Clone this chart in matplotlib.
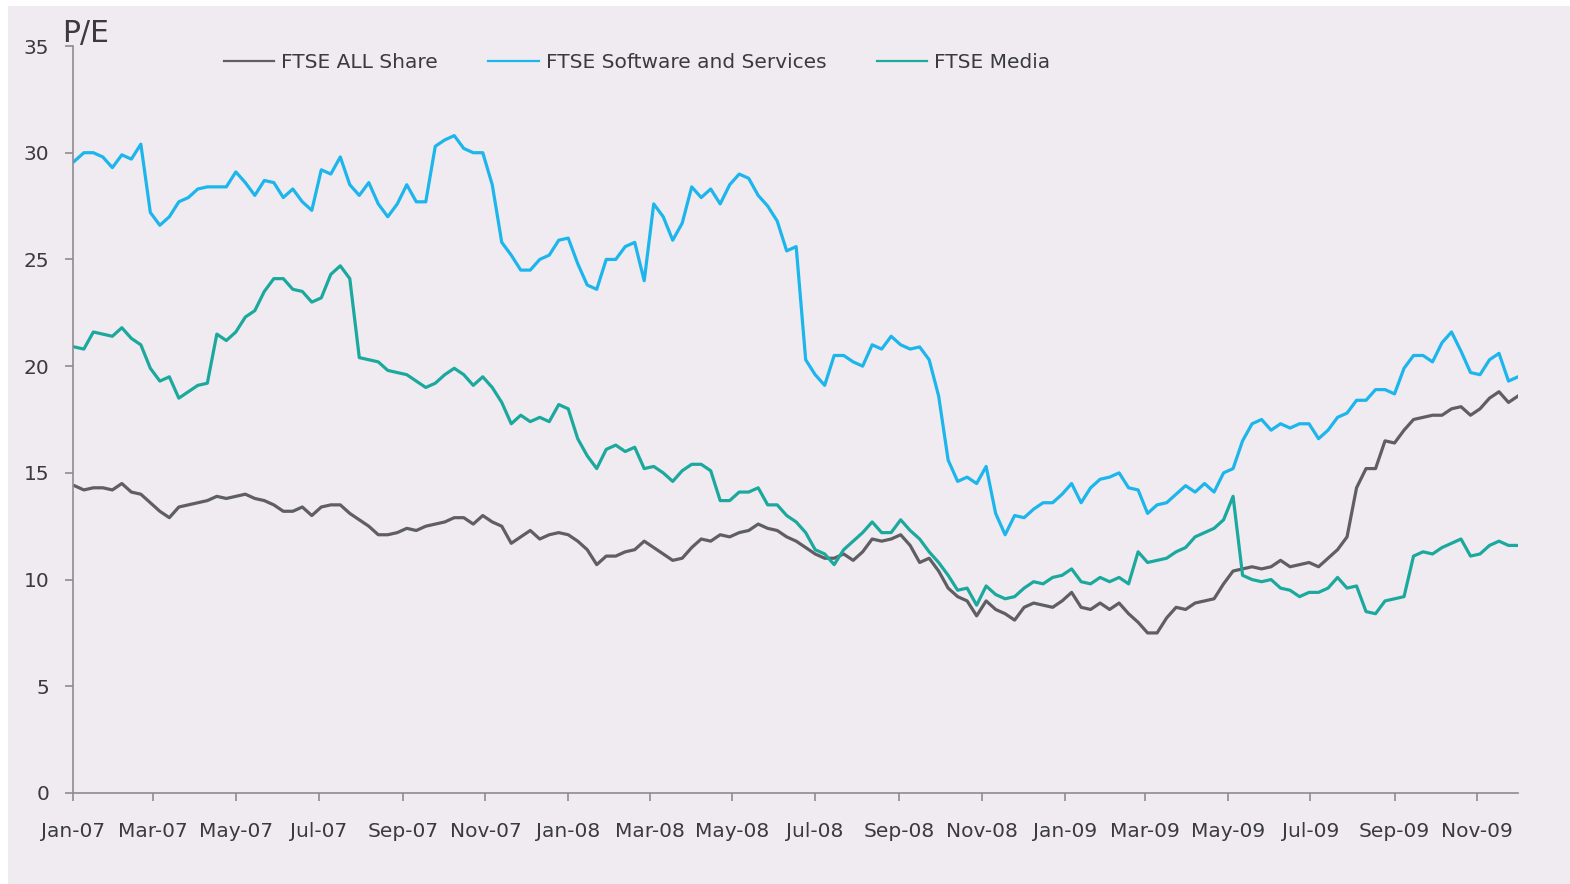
import numpy as np
import pandas as pd
import matplotlib
matplotlib.use("Agg")
import matplotlib.pyplot as plt
import matplotlib.dates as mdates
from matplotlib.lines import Line2D
from matplotlib.patches import Rectangle

# weekly P/E readings, Jan-07 to end Nov-09
start_date = "2007-01-02"

all_share = [
    14.4, 14.2, 14.3, 14.3, 14.2, 14.5, 14.1, 14.0, 13.6, 13.2,
    12.9, 13.4, 13.5, 13.6, 13.7, 13.9, 13.8, 13.9, 14.0, 13.8,
    13.7, 13.5, 13.2, 13.2, 13.4, 13.0, 13.4, 13.5, 13.5, 13.1,
    12.8, 12.5, 12.1, 12.1, 12.2, 12.4, 12.3, 12.5, 12.6, 12.7,
    12.9, 12.9, 12.6, 13.0, 12.7, 12.5, 11.7, 12.0, 12.3, 11.9,
    12.1, 12.2, 12.1, 11.8, 11.4, 10.7, 11.1, 11.1, 11.3, 11.4,
    11.8, 11.5, 11.2, 10.9, 11.0, 11.5, 11.9, 11.8, 12.1, 12.0,
    12.2, 12.3, 12.6, 12.4, 12.3, 12.0, 11.8, 11.5, 11.2, 11.0,
    11.0, 11.2, 10.9, 11.3, 11.9, 11.8, 11.9, 12.1, 11.6, 10.8,
    11.0, 10.4, 9.6, 9.2, 9.0, 8.3, 9.0, 8.6, 8.4, 8.1,
    8.7, 8.9, 8.8, 8.7, 9.0, 9.4, 8.7, 8.6, 8.9, 8.6,
    8.9, 8.4, 8.0, 7.5, 7.5, 8.2, 8.7, 8.6, 8.9, 9.0,
    9.1, 9.8, 10.4, 10.5, 10.6, 10.5, 10.6, 10.9, 10.6, 10.7,
    10.8, 10.6, 11.0, 11.4, 12.0, 14.3, 15.2, 15.2, 16.5, 16.4,
    17.0, 17.5, 17.6, 17.7, 17.7, 18.0, 18.1, 17.7, 18.0, 18.5,
    18.8, 18.3, 18.6,
]

software = [
    29.6, 30.0, 30.0, 29.8, 29.3, 29.9, 29.7, 30.4, 27.2, 26.6,
    27.0, 27.7, 27.9, 28.3, 28.4, 28.4, 28.4, 29.1, 28.6, 28.0,
    28.7, 28.6, 27.9, 28.3, 27.7, 27.3, 29.2, 29.0, 29.8, 28.5,
    28.0, 28.6, 27.6, 27.0, 27.6, 28.5, 27.7, 27.7, 30.3, 30.6,
    30.8, 30.2, 30.0, 30.0, 28.5, 25.8, 25.2, 24.5, 24.5, 25.0,
    25.2, 25.9, 26.0, 24.8, 23.8, 23.6, 25.0, 25.0, 25.6, 25.8,
    24.0, 27.6, 27.0, 25.9, 26.7, 28.4, 27.9, 28.3, 27.6, 28.5,
    29.0, 28.8, 28.0, 27.5, 26.8, 25.4, 25.6, 20.3, 19.6, 19.1,
    20.5, 20.5, 20.2, 20.0, 21.0, 20.8, 21.4, 21.0, 20.8, 20.9,
    20.3, 18.6, 15.6, 14.6, 14.8, 14.5, 15.3, 13.1, 12.1, 13.0,
    12.9, 13.3, 13.6, 13.6, 14.0, 14.5, 13.6, 14.3, 14.7, 14.8,
    15.0, 14.3, 14.2, 13.1, 13.5, 13.6, 14.0, 14.4, 14.1, 14.5,
    14.1, 15.0, 15.2, 16.5, 17.3, 17.5, 17.0, 17.3, 17.1, 17.3,
    17.3, 16.6, 17.0, 17.6, 17.8, 18.4, 18.4, 18.9, 18.9, 18.7,
    19.9, 20.5, 20.5, 20.2, 21.1, 21.6, 20.7, 19.7, 19.6, 20.3,
    20.6, 19.3, 19.5,
]

media = [
    20.9, 20.8, 21.6, 21.5, 21.4, 21.8, 21.3, 21.0, 19.9, 19.3,
    19.5, 18.5, 18.8, 19.1, 19.2, 21.5, 21.2, 21.6, 22.3, 22.6,
    23.5, 24.1, 24.1, 23.6, 23.5, 23.0, 23.2, 24.3, 24.7, 24.1,
    20.4, 20.3, 20.2, 19.8, 19.7, 19.6, 19.3, 19.0, 19.2, 19.6,
    19.9, 19.6, 19.1, 19.5, 19.0, 18.3, 17.3, 17.7, 17.4, 17.6,
    17.4, 18.2, 18.0, 16.6, 15.8, 15.2, 16.1, 16.3, 16.0, 16.2,
    15.2, 15.3, 15.0, 14.6, 15.1, 15.4, 15.4, 15.1, 13.7, 13.7,
    14.1, 14.1, 14.3, 13.5, 13.5, 13.0, 12.7, 12.2, 11.4, 11.2,
    10.7, 11.4, 11.8, 12.2, 12.7, 12.2, 12.2, 12.8, 12.3, 11.9,
    11.3, 10.8, 10.2, 9.5, 9.6, 8.8, 9.7, 9.3, 9.1, 9.2,
    9.6, 9.9, 9.8, 10.1, 10.2, 10.5, 9.9, 9.8, 10.1, 9.9,
    10.1, 9.8, 11.3, 10.8, 10.9, 11.0, 11.3, 11.5, 12.0, 12.2,
    12.4, 12.8, 13.9, 10.2, 10.0, 9.9, 10.0, 9.6, 9.5, 9.2,
    9.4, 9.4, 9.6, 10.1, 9.6, 9.7, 8.5, 8.4, 9.0, 9.1,
    9.2, 11.1, 11.3, 11.2, 11.5, 11.7, 11.9, 11.1, 11.2, 11.6,
    11.8, 11.6, 11.6,
]

series_names = ["FTSE ALL Share", "FTSE Software and Services", "FTSE Media"]
colors = ["#5f5e63", "#1cb5ec", "#1ba99e"]

dates = pd.date_range(start_date, periods=len(all_share), freq="7D")

text_col = "#3a3a3f"
axis_col = "#8e8c91"
bg = "#efebf0"

fig = plt.figure(figsize=(15.7, 8.84), dpi=100, facecolor="white")
panel = Rectangle((8 / 1570, 0), 1, 1 - 6 / 884, transform=fig.transFigure,
                  facecolor=bg, edgecolor="none", zorder=-10)
fig.patches.append(panel)

ax = fig.add_axes([73 / 1570, 1 - 793 / 884, (1518 - 73) / 1570, (793 - 46) / 884])
ax.set_zorder(2)
ax.patch.set_visible(False)

for vals, c in zip([all_share, software, media], colors):
    ax.plot(dates, vals, color=c, lw=2.3, solid_joinstyle="round")

ax.set_ylim(0, 35)
ax.set_yticks(np.arange(0, 36, 5))
ax.set_xlim(pd.Timestamp("2007-01-01"), pd.Timestamp("2009-12-01"))
ax.xaxis.set_major_locator(mdates.MonthLocator(bymonth=[1, 3, 5, 7, 9, 11]))
ax.xaxis.set_major_formatter(mdates.DateFormatter("%b-%y"))

for s in ["top", "right"]:
    ax.spines[s].set_visible(False)
for s in ["left", "bottom"]:
    ax.spines[s].set_color(axis_col)
    ax.spines[s].set_linewidth(1.2)

ax.tick_params(axis="both", direction="out", length=6, width=1.2, color=axis_col,
               labelsize=14.5, labelcolor=text_col)
ax.tick_params(axis="y", pad=11)
ax.tick_params(axis="x", pad=15)

fig.text(62 / 1570, 1 - 42 / 884, "P/E", fontsize=21.5, color=text_col, va="baseline", ha="left")

handles = [Line2D([], [], color=c, lw=1.6) for c in colors]
fig.legend(handles, series_names, loc="center left", bbox_to_anchor=(224 / 1570, 1 - 63 / 884),
           ncol=3, frameon=False, fontsize=14.5, labelcolor=text_col, handlelength=2.5,
           handletextpad=0.35, columnspacing=2.5, borderpad=0, borderaxespad=0)

fig.savefig("out.png", dpi=100, facecolor="white")
